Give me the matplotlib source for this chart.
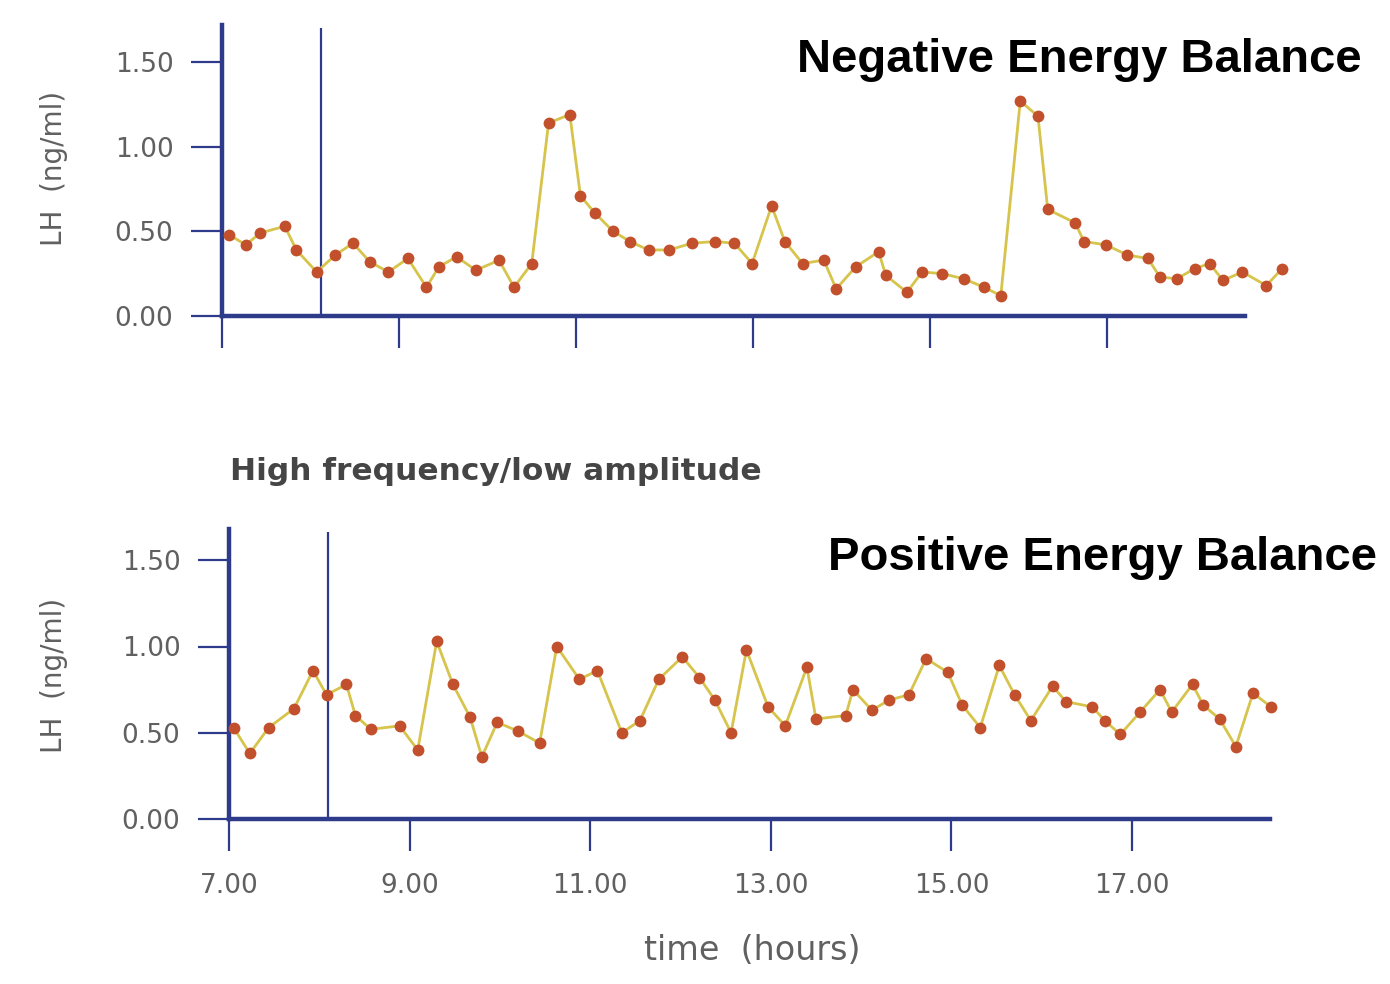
import numpy as np
import matplotlib.pyplot as plt

# ---- data (time in hours, LH in ng/ml) ----
neg_time = [7.08, 7.27, 7.43, 7.71, 7.84, 8.07, 8.28, 8.48, 8.67, 8.88,
            9.10, 9.31, 9.45, 9.65, 9.87, 10.13, 10.30, 10.50, 10.69, 10.93,
            11.05, 11.21, 11.42, 11.61, 11.82, 12.05, 12.31, 12.57, 12.79, 12.99,
            13.21, 13.36, 13.56, 13.80, 13.94, 14.16, 14.42, 14.50, 14.74, 14.91,
            15.14, 15.38, 15.61, 15.80, 16.02, 16.22, 16.33, 16.64, 16.74, 16.99,
            17.23, 17.46, 17.60, 17.79, 17.99, 18.16, 18.31, 18.53, 18.80, 18.98]
neg_lh = [0.48, 0.42, 0.49, 0.53, 0.39, 0.26, 0.36, 0.43, 0.32, 0.26,
          0.34, 0.17, 0.29, 0.35, 0.27, 0.33, 0.17, 0.31, 1.14, 1.19,
          0.71, 0.61, 0.50, 0.44, 0.39, 0.39, 0.43, 0.44, 0.43, 0.31,
          0.65, 0.44, 0.31, 0.33, 0.16, 0.29, 0.38, 0.24, 0.14, 0.26,
          0.25, 0.22, 0.17, 0.12, 1.27, 1.18, 0.63, 0.55, 0.44, 0.42,
          0.36, 0.34, 0.23, 0.22, 0.28, 0.31, 0.21, 0.26, 0.18, 0.28]

pos_time = [7.05, 7.23, 7.44, 7.72, 7.93, 8.08, 8.30, 8.40, 8.57, 8.89,
            9.09, 9.30, 9.48, 9.67, 9.80, 9.97, 10.20, 10.44, 10.63, 10.88,
            11.08, 11.35, 11.55, 11.76, 12.02, 12.21, 12.38, 12.56, 12.73, 12.97,
            13.16, 13.40, 13.50, 13.83, 13.91, 14.12, 14.31, 14.53, 14.72, 14.96,
            15.12, 15.32, 15.53, 15.70, 15.88, 16.12, 16.27, 16.56, 16.70, 16.87,
            17.09, 17.31, 17.44, 17.67, 17.79, 17.97, 18.15, 18.34, 18.54]
pos_lh = [0.53, 0.38, 0.53, 0.64, 0.86, 0.72, 0.78, 0.60, 0.52, 0.54,
          0.40, 1.03, 0.78, 0.59, 0.36, 0.56, 0.51, 0.44, 1.00, 0.81,
          0.86, 0.50, 0.57, 0.81, 0.94, 0.82, 0.69, 0.50, 0.98, 0.65,
          0.54, 0.88, 0.58, 0.60, 0.75, 0.63, 0.69, 0.72, 0.93, 0.85,
          0.66, 0.53, 0.89, 0.72, 0.57, 0.77, 0.68, 0.65, 0.57, 0.49,
          0.62, 0.75, 0.62, 0.78, 0.66, 0.58, 0.42, 0.73, 0.65]

x_ticks = [7, 9, 11, 13, 15, 17]
x_labels = ['7.00', '9.00', '11.00', '13.00', '15.00', '17.00']
y_ticks = [0, 0.5, 1.0, 1.5]
y_labels = ['0.00', '0.50', '1.00', '1.50']

AXIS_BLUE = '#2e3a8a'
LINE_YELLOW = '#d6c44c'
DOT_RED = '#c2502c'
TEXT_GREY = '#606060'

W, H = 1390, 984
fig = plt.figure(figsize=(W / 100, H / 100), dpi=100)
fig.patch.set_facecolor('white')


def make_axes(x0_px, px_per_hr, y0_px, px_per_unit):
    # place axes so that data (7, 0) lands on the pixel (x0_px, y0_px)
    xlo, xhi = 6.5, 19.5
    ylo, yhi = -0.4, 1.8
    left = x0_px - (7 - xlo) * px_per_hr
    width = (xhi - xlo) * px_per_hr
    bottom = y0_px + (0 - ylo) * px_per_unit
    top = y0_px - yhi * px_per_unit
    ax = fig.add_axes([left / W, 1 - bottom / H, width / W, (bottom - top) / H])
    ax.set_xlim(xlo, xhi)
    ax.set_ylim(ylo, yhi)
    ax.patch.set_alpha(0)
    return ax, (bottom, top, left, width)


def style_axes(ax, x_end, y_top, marker_x, show_xlabels):
    for s in ['top', 'right']:
        ax.spines[s].set_visible(False)
    ax.spines['bottom'].set_position(('data', 0))
    ax.spines['left'].set_position(('data', 7))
    ax.spines['bottom'].set_bounds(7, x_end)
    ax.spines['left'].set_bounds(0, y_top)
    for s in ['bottom', 'left']:
        ax.spines[s].set_color(AXIS_BLUE)
        ax.spines[s].set_linewidth(3.2)
    ax.set_xticks(x_ticks)
    ax.set_yticks(y_ticks)
    ax.set_yticklabels(y_labels)
    if show_xlabels:
        ax.set_xticklabels(x_labels)
    else:
        ax.set_xticklabels([])
    ax.tick_params(axis='x', direction='out', length=23, width=1.6,
                   color=AXIS_BLUE, labelsize=19, labelcolor=TEXT_GREY, pad=16)
    ax.tick_params(axis='y', direction='out', length=22, width=1.6,
                   color=AXIS_BLUE, labelsize=19, labelcolor=TEXT_GREY, pad=13)
    ax.vlines(marker_x, 0, y_top * 0.99, color=AXIS_BLUE, linewidth=1.6)


def draw_series(ax, t, v):
    ax.plot(t, v, color=LINE_YELLOW, linewidth=2.0, zorder=3)
    ax.plot(t, v, 'o', color=DOT_RED, markersize=8.5, zorder=4,
            markeredgewidth=0)


# ---- top panel: negative energy balance ----
ax1, g1 = make_axes(222, 88.5, 316, 169.3)
style_axes(ax1, 18.56, 1.72, 8.12, False)
draw_series(ax1, neg_time, neg_lh)
ax1.set_ylabel('LH  (ng/ml)', fontsize=20, color=TEXT_GREY)
ax1.yaxis.set_label_coords((68 - g1[2]) / g1[3], (g1[0] - 168) / (g1[0] - g1[1]))

# ---- bottom panel: positive energy balance ----
ax2, g2 = make_axes(229, 90.3, 819, 172.5)
style_axes(ax2, 18.53, 1.68, 8.10, True)
draw_series(ax2, pos_time, pos_lh)
ax2.set_ylabel('LH  (ng/ml)', fontsize=20, color=TEXT_GREY)
ax2.yaxis.set_label_coords((68 - g2[2]) / g2[3], (g2[0] - 675) / (g2[0] - g2[1]))

# ---- texts ----
fig.text(1362 / W, 1 - 60 / H, 'Negative Energy Balance', ha='right', va='center',
         fontsize=34, fontweight='bold', family='Liberation Sans', color='black')
fig.text(1377 / W, 1 - 558 / H, 'Positive Energy Balance', ha='right', va='center',
         fontsize=34, fontweight='bold', family='Liberation Sans', color='black')
fig.text(230 / W, 1 - 471 / H, 'High frequency/low amplitude', ha='left', va='center',
         fontsize=22.5, fontweight='bold', color='#454545')
fig.text(752 / W, 1 - 950 / H, 'time  (hours)', ha='center', va='center',
         fontsize=24, color=TEXT_GREY)

fig.savefig('out.png', dpi=100)
